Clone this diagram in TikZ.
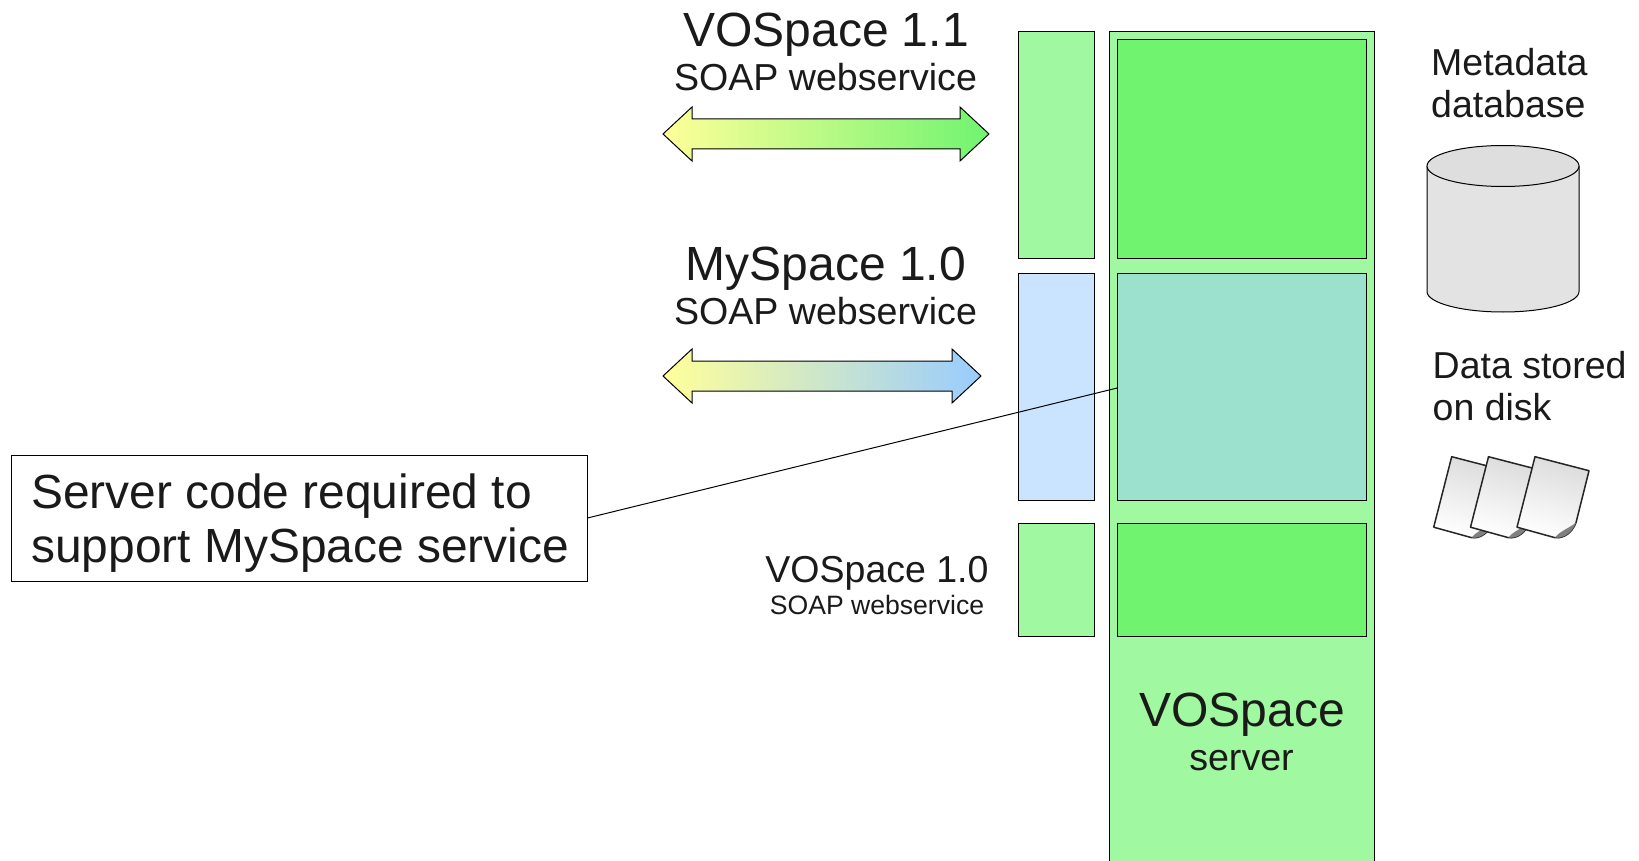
\documentclass[tikz,border=0pt]{standalone}
\usepackage{fontspec}
\setmainfont{Liberation Sans}
\usetikzlibrary{calc}
\definecolor{lgreen}{HTML}{A0F8A0}
\definecolor{mgreen}{HTML}{70F470}
\definecolor{lblue}{HTML}{CAE4FF}
\definecolor{teal}{HTML}{9BE1CD}
\definecolor{txt}{HTML}{1A1A1A}
\definecolor{cylg}{HTML}{E3E3E3}
\definecolor{yel}{HTML}{FFFF99}
\definecolor{ablue}{HTML}{99CCFF}
\tikzset{
 box/.style={draw=black,line width=1pt,rectangle,minimum width=0pt,minimum height=0pt,inner sep=0pt,outer sep=0pt},
 lab/.style={text=txt,inner sep=0pt,align=center},
 fsa/.style={font=\fontsize{48}{52}\selectfont},
 fsb/.style={font=\fontsize{37.6}{42}\selectfont},
 page/.style={draw=black!85,line width=1.5pt,line join=round,top color=black!14,bottom color=white,shading angle=-17},
}
\newcommand{\rectat}[6]{\node[box,fill=#6,anchor=north west,minimum width=#4pt-#2pt,minimum height=#5pt-#3pt] (#1) at (#2pt,-#3pt) {};}
\newcommand{\dblarrow}[3]{%
 \path[draw=black,line width=1pt,line join=miter,left color=yel,right color=#1]
 (663pt,-#3pt) -- (692pt,-#3pt+27pt) -- (692pt,-#3pt+15pt) -- (#2pt-29pt,-#3pt+15pt) -- (#2pt-29pt,-#3pt+27pt) -- (#2pt,-#3pt)
 -- (#2pt-29pt,-#3pt-27pt) -- (#2pt-29pt,-#3pt-15pt) -- (692pt,-#3pt-15pt) -- (692pt,-#3pt-27pt) -- cycle;}
\newcommand{\docpage}[2]{%
 \begin{scope}[shift={(#1pt,-#2pt)}]
 \path[page] (0,0) -- (54pt,-14pt) -- (41pt,-66pt) .. controls (37pt,-76pt) and (29pt,-82pt) .. (20pt,-81pt) -- (-18pt,-70.5pt) -- cycle;
 \fill[black!50] (41pt,-66pt) .. controls (37pt,-76pt) and (29pt,-82pt) .. (20pt,-81pt) .. controls (24pt,-75pt) and (33pt,-72pt) .. (41pt,-66pt) -- cycle;
 \end{scope}}
\begin{document}
\begin{tikzpicture}[x=1pt,y=1pt]
\useasboundingbox (0,0) rectangle (1639pt,-861pt);
\fill[white] (0,0) rectangle (1639pt,-861pt);
% server
\path[fill=lgreen] (1109.3pt,-31.7pt) rectangle (1374pt,-861pt);
\coordinate (sa) at (1109.3pt,-861pt);
\coordinate (sb) at (1109.3pt,-31.7pt);
\coordinate (sc) at (1374pt,-31.7pt);
\coordinate (sd) at (1374pt,-861pt);
\draw[line width=1pt] (sa) -- (sb) -- (sc) -- (sd);
\rectat{c1}{1018.3}{31.7}{1094.7}{258.3}{lgreen}
\rectat{c2}{1018.3}{273.7}{1094.7}{500.7}{lblue}
\rectat{c3}{1018.3}{523.5}{1094.7}{636.7}{lgreen}
\rectat{i1}{1117.2}{39.3}{1366.7}{258.3}{mgreen}
\rectat{i2}{1117.2}{273.7}{1366.7}{500.7}{teal}
\rectat{i3}{1117.2}{523.5}{1366.7}{636.7}{mgreen}
\rectat{call}{11.5}{455}{587.5}{581.7}{white}
\draw[line width=1pt] (call.east |- 0,-518pt) -- (i2.west |- 0,-388pt);
\dblarrow{mgreen}{989}{134}
\dblarrow{ablue}{981}{376}
\node[lab,fsa] (t1) at (826pt,-35pt) {VOSpace 1.1};
\node[lab,fsb] (t2) at (825.5pt,-77pt) {SOAP webservice};
\node[lab,fsa] (t3) at (826pt,-269pt) {MySpace 1.0};
\node[lab,fsb] (t4) at (825.5pt,-311pt) {SOAP webservice};
\node[lab,font=\fontsize{37.5}{40}\selectfont] (t5) at (877pt,-573pt) {VOSpace 1.0};
\node[lab,font=\fontsize{26.6}{30}\selectfont] (t6) at (877pt,-605pt) {SOAP webservice};
\node[lab,fsa] (t7) at (1242pt,-715pt) {VOSpace};
\node[lab,fsb] (t8) at (1241.5pt,-761pt) {server};
\node[lab,align=left,anchor=north west,font=\fontsize{47.9}{54.5}\selectfont] (t9) at (31pt,-473.5pt) {Server code required to\\support MySpace service};
\node[lab,align=left,anchor=north west,font=\fontsize{37.5}{41.8}\selectfont] (t10) at (1431pt,-48pt) {Metadata\\database};
\node[lab,align=left,anchor=north west,font=\fontsize{37.5}{41.8}\selectfont] (t11) at (1432.5pt,-351pt) {Data stored\\on disk};
% cylinder
\path[draw=black,line width=1pt,fill=cylg] (1427pt,-166pt) -- (1427pt,-291.5pt) arc[start angle=180,end angle=360,x radius=76pt,y radius=20.5pt] -- (1579pt,-166pt);
\path[draw=black,line width=1pt,fill=cylg!98!black] (1503pt,-166pt) ellipse[x radius=76pt,y radius=20.5pt];
% documents
\docpage{1451.7}{456.7}
\docpage{1488.5}{456.7}
\docpage{1535}{456.7}
\end{tikzpicture}
\end{document}
